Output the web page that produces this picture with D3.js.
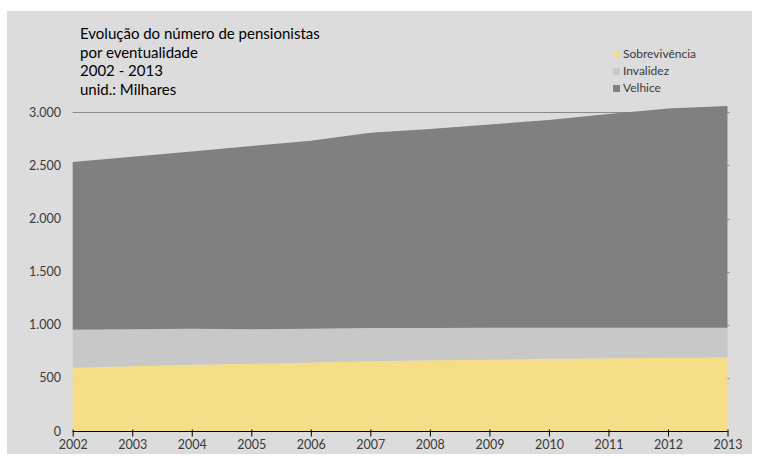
<!DOCTYPE html>
<html>
<head>
<meta charset="utf-8">
<script src="https://cdn.jsdelivr.net/npm/d3@7"></script>
<style>
  html, body { margin: 0; padding: 0; background: #ffffff; }
  svg { display: block; }
  text { font-family: Lato, "Open Sans", sans-serif; }
</style>
</head>
<body>
<svg id="chart" width="760" height="459"></svg>
<script>
// Pensionistas por eventualidade (milhares), 2002-2013
const years = [2002, 2003, 2004, 2005, 2006, 2007, 2008, 2009, 2010, 2011, 2012, 2013];
const sobrevivencia = [595, 609, 623, 633, 644, 656, 666, 670, 680, 685, 689, 692];
const invalidez     = [359, 349, 340, 324, 318, 314, 303, 301, 292, 287, 284, 280];
const velhice       = [1577, 1623, 1668, 1725, 1770, 1837, 1873, 1914, 1955, 2012, 2063, 2088];

const seriesNames = ["Sobrevivência", "Invalidez", "Velhice"];
const seriesColors = ["#f5de88", "#c8c8c8", "#808080"];
const yTicks = [0, 500, 1000, 1500, 2000, 2500, 3000];
const titleLines = ["Evolução do número de pensionistas", "por eventualidade", "2002 - 2013", "unid.: Milhares"];

const rows = years.map((y, i) => ({
  year: y,
  "Sobrevivência": sobrevivencia[i],
  "Invalidez": invalidez[i],
  "Velhice": velhice[i]
}));

const svg = d3.select("#chart");

// panel background
svg.append("rect")
  .attr("x", 7).attr("y", 11).attr("width", 745).attr("height", 443)
  .attr("fill", "#dcdcdc");

const x = d3.scaleLinear().domain([2002, 2013]).range([72.7, 727.5]);
const y = d3.scaleLinear().domain([0, 3000]).range([431, 112.3]);

// gridlines
svg.append("g")
  .selectAll("line")
  .data(yTicks.filter(d => d > 0))
  .join("line")
  .attr("x1", x(2002)).attr("x2", x(2013) + 2)
  .attr("y1", d => Math.round(y(d)) + 0.5).attr("y2", d => Math.round(y(d)) + 0.5)
  .attr("stroke", "#8a8a8a").attr("stroke-width", 1);

// stacked areas
const stack = d3.stack().keys(seriesNames);
const layers = stack(rows);
const area = d3.area()
  .x(d => x(d.data.year))
  .y0(d => y(d[0]))
  .y1(d => y(d[1]));

svg.append("g")
  .selectAll("path")
  .data(layers)
  .join("path")
  .attr("d", area)
  .attr("fill", (d, i) => seriesColors[i]);

// y-axis labels (no axis line)
const fmt = d3.formatLocale({ decimal: ",", thousands: ".", grouping: [3], currency: ["", "€"] }).format(",");
const yAxis = d3.axisLeft(y).tickValues(yTicks).tickFormat(fmt).tickSize(0).tickPadding(0);
const gy = svg.append("g").attr("transform", "translate(61,0)").call(yAxis);
gy.select(".domain").remove();
gy.selectAll("text")
  .attr("fill", "#3a3a3a")
  .style("font-size", "12.5px")
  .style("font-family", "Lato, sans-serif");

// x-axis
const xAxis = d3.axisBottom(x).tickValues(years).tickFormat(d3.format("d")).tickSize(5).tickPadding(4);
const gx = svg.append("g").attr("transform", `translate(0,${Math.round(y(0)) + 0.5})`).call(xAxis);
gx.select(".domain").attr("stroke", "#000").attr("d", `M${x(2002)},0H${x(2013)}`);
gx.selectAll(".tick line").attr("stroke", "#000").attr("y1", -2);
gx.selectAll("text")
  .attr("fill", "#3a3a3a")
  .style("font-size", "12.5px")
  .style("font-family", "Lato, sans-serif");

// title
svg.append("text")
  .attr("x", 80).attr("y", 39)
  .attr("fill", "#000")
  .style("font-size", "15px")
  .selectAll("tspan")
  .data(titleLines)
  .join("tspan")
  .attr("x", 80)
  .attr("dy", (d, i) => i === 0 ? 0 : 18.6)
  .text(d => d);

// legend
const legend = svg.append("g").attr("transform", "translate(613,51)");
const items = legend.selectAll("g")
  .data(seriesNames)
  .join("g")
  .attr("transform", (d, i) => `translate(0,${i * 17})`);
items.append("rect")
  .attr("width", 7).attr("height", 7)
  .attr("fill", (d, i) => seriesColors[i]);
items.append("text")
  .attr("x", 10).attr("y", 7)
  .attr("fill", "#3a3a3a")
  .style("font-size", "12px")
  .text(d => d);
</script>
</body>
</html>
